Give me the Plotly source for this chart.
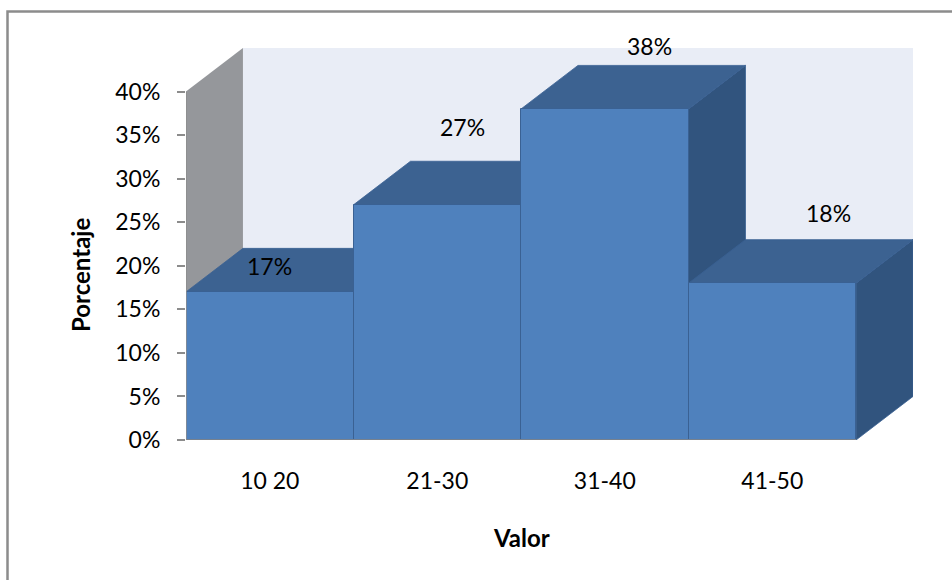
import plotly.graph_objects as go

# ---- data ----
categories = ["10 20", "21-30", "31-40", "41-50"]
porcentaje = [0.17, 0.27, 0.38, 0.18]
y_ticks = [0.0, 0.05, 0.10, 0.15, 0.20, 0.25, 0.30, 0.35, 0.40]

# ---- layout / styling constants ----
W, H = 952, 580
L, R, T, B = 186, 39, 48, 140
FONT = "Lato"
TICK_SIZE = 23
TITLE_SIZE = 24
DX, DY = 0.34, 0.05          # depth offset of the pseudo-3D boxes (x units, y units)
Y_TOP = 0.40
X_RANGE = [-0.5, len(categories) - 0.5 + DX]
Y_RANGE = [0.0, Y_TOP + DY]

FRONT = "#4F81BD"
TOP = "#3C6291"
SIDE = "#31547E"
EDGE = "#3A6193"
BACK_WALL = "#E9EDF6"
SIDE_WALL = "#95979B"
AXIS_GRAY = "#8C8C8C"

plot_w = W - L - R
plot_h = H - T - B


def px_to_paper_x(px):
    return (px - L) / plot_w


def px_to_paper_y(py):
    return (H - B - py) / plot_h


fig = go.Figure()

# top and side faces of each box (drawn on the base axes, underneath the fronts)
for i, v in enumerate(porcentaje):
    x0, x1 = i - 0.5, i + 0.5
    top_x = [x0, x0 + DX, x1 + DX, x1, x0]
    top_y = [v, v + DY, v + DY, v, v]
    side_x = [x1, x1 + DX, x1 + DX, x1, x1]
    side_y = [0, DY, v + DY, v, 0]
    fig.add_trace(go.Scatter(x=side_x, y=side_y, mode="lines", fill="toself",
                             fillcolor=SIDE, line=dict(color=EDGE, width=0.8),
                             hoverinfo="skip", showlegend=False))
    fig.add_trace(go.Scatter(x=top_x, y=top_y, mode="lines", fill="toself",
                             fillcolor=TOP, line=dict(color=EDGE, width=0.8),
                             hoverinfo="skip", showlegend=False))

# front faces as real bars on an overlaid axis pair, so they sit above the faces
fig.add_trace(go.Bar(x=list(range(len(categories))), y=porcentaje, width=1.0,
                     marker=dict(color=FRONT, line=dict(color=EDGE, width=1)),
                     xaxis="x2", yaxis="y2", hoverinfo="skip", showlegend=False))

shapes = []
# back wall
shapes.append(dict(type="path", xref="x", yref="y", layer="below",
                   path=(f"M {X_RANGE[0] + DX} {DY} L {X_RANGE[1]} {DY} "
                         f"L {X_RANGE[1]} {Y_TOP + DY} L {X_RANGE[0] + DX} {Y_TOP + DY} Z"),
                   fillcolor=BACK_WALL, line=dict(width=0)))
# left side wall
shapes.append(dict(type="path", xref="x", yref="y", layer="below",
                   path=(f"M {X_RANGE[0]} 0 L {X_RANGE[0]} {Y_TOP} "
                         f"L {X_RANGE[0] + DX} {Y_TOP + DY} L {X_RANGE[0] + DX} {DY} Z"),
                   fillcolor=SIDE_WALL, line=dict(width=0)))
# axis lines
shapes.append(dict(type="line", xref="x", yref="y", layer="above",
                   x0=X_RANGE[0], x1=X_RANGE[0], y0=0, y1=Y_TOP,
                   line=dict(color=AXIS_GRAY, width=1.5)))
shapes.append(dict(type="line", xref="x", yref="y", layer="above",
                   x0=X_RANGE[0], x1=len(categories) - 0.5, y0=0, y1=0,
                   line=dict(color=AXIS_GRAY, width=1.5)))
# chart frame
shapes.append(dict(type="rect", xref="paper", yref="paper", layer="below",
                   x0=px_to_paper_x(7.5), x1=px_to_paper_x(980),
                   y0=px_to_paper_y(620), y1=px_to_paper_y(11.5),
                   line=dict(color=AXIS_GRAY, width=2.5), fillcolor="rgba(0,0,0,0)"))

# value labels, with per-label offsets (px)
label_shift = [(0, 26), (25, 78), (45, 63), (56, 70)]
annotations = []
for i, v in enumerate(porcentaje):
    dxp, dyp = label_shift[i]
    annotations.append(dict(x=i, y=v, xref="x", yref="y", text=f"{round(v * 100)}%",
                            showarrow=False, xshift=dxp, yshift=dyp,
                            xanchor="center", yanchor="middle",
                            font=dict(family=FONT, size=TICK_SIZE, color="#000000")))
# axis titles
annotations.append(dict(x=px_to_paper_x(80), y=px_to_paper_y(275), xref="paper", yref="paper",
                        text="<b>Porcentaje</b>", textangle=-90, showarrow=False,
                        xanchor="center", yanchor="middle",
                        font=dict(family=FONT, size=TITLE_SIZE, color="#000000")))
annotations.append(dict(x=px_to_paper_x(521), y=px_to_paper_y(537), xref="paper", yref="paper",
                        text="<b>Valor</b>", showarrow=False,
                        xanchor="center", yanchor="middle",
                        font=dict(family=FONT, size=TITLE_SIZE, color="#000000")))

fig.update_layout(
    width=W, height=H,
    margin=dict(l=L, r=R, t=T, b=B),
    paper_bgcolor="white", plot_bgcolor="rgba(0,0,0,0)",
    font=dict(family=FONT, size=TICK_SIZE, color="#000000"),
    shapes=shapes, annotations=annotations,
    xaxis=dict(range=X_RANGE, tickvals=list(range(len(categories))), ticktext=categories,
               showgrid=False, zeroline=False, showline=False, ticks="",
               ticklabelstandoff=25, fixedrange=True),
    yaxis=dict(range=Y_RANGE, tickvals=y_ticks, tickformat=".0%",
               showgrid=False, zeroline=False, showline=False,
               ticks="outside", ticklen=8, tickcolor=AXIS_GRAY, tickwidth=1.5,
               ticklabelstandoff=12, fixedrange=True),
    xaxis2=dict(range=X_RANGE, overlaying="x", visible=False, fixedrange=True),
    yaxis2=dict(range=Y_RANGE, overlaying="y", visible=False, fixedrange=True),
    bargap=0, showlegend=False,
)

fig.write_html("out.html")
